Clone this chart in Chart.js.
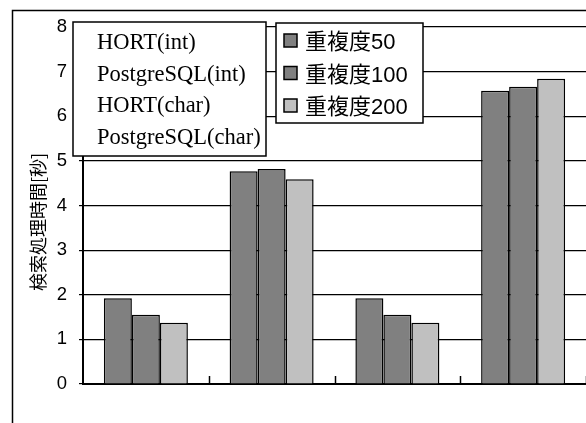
<!DOCTYPE html>
<html>
<head>
<meta charset="utf-8">
<script src="https://cdn.jsdelivr.net/npm/chart.js@4/dist/chart.umd.min.js"></script>
<style>
  html, body { margin: 0; padding: 0; background: #fff; overflow: hidden; }
  canvas { display: block; }
</style>
</head>
<body>
<canvas id="chart" width="586" height="423"></canvas>
<script>
// values (seconds)
const categories = ["HORT(int)", "PostgreSQL(int)", "HORT(char)", "PostgreSQL(char)"]
const seriesNames = ["重複度50", "重複度100", "重複度200"]
const dup50 = [1.92, 4.77, 1.92, 6.57]
const dup100 = [1.55, 4.82, 1.55, 6.66]
const dup200 = [1.37, 4.59, 1.37, 6.84]
const yTitle = "検索処理時間[秒]"
const yMin = 0
const yMax = 8

const colors = ["#808080", "#808080", "#c0c0c0"]

// outer frame of the figure (cut off on the right and bottom)
const framePlugin = {
  id: "frame",
  beforeDraw(chart) {
    const ctx = chart.ctx
    ctx.save()
    ctx.fillStyle = "#fff"
    ctx.fillRect(0, 0, chart.width, chart.height)
    ctx.strokeStyle = "#000"
    ctx.lineWidth = 1.5
    ctx.strokeRect(12.5, 10.5, chart.width + 20, chart.height + 20)
    ctx.restore()
  },
}

// short upward ticks between categories on the x axis
const xTicksPlugin = {
  id: "xticks",
  afterDatasetsDraw(chart) {
    const ctx = chart.ctx
    const x = chart.scales.x
    const bottom = chart.chartArea.bottom
    const half = (x.getPixelForValue(1) - x.getPixelForValue(0)) / 2
    ctx.save()
    ctx.strokeStyle = "#000"
    ctx.lineWidth = 1.5
    categories.forEach((c, i) => {
      const px = Math.round(x.getPixelForValue(i) + half) + 0.5
      ctx.beginPath()
      ctx.moveTo(px, bottom)
      ctx.lineTo(px, bottom - 8)
      ctx.stroke()
    })
    ctx.restore()
  },
}

// rotated y title, category text box and series legend box
const boxesPlugin = {
  id: "boxes",
  afterDraw(chart) {
    const ctx = chart.ctx
    const area = chart.chartArea
    ctx.save()

    ctx.translate(38, 222)
    ctx.rotate(-Math.PI / 2)
    ctx.fillStyle = "#000"
    ctx.font = '18px "Noto Sans CJK JP"'
    ctx.textAlign = "center"
    ctx.textBaseline = "middle"
    ctx.fillText(yTitle, 0, 0)
    ctx.setTransform(1, 0, 0, 1, 0, 0)

    // category names box
    const cx = area.left - 10, cy = area.top - 5
    ctx.fillStyle = "#fff"
    ctx.fillRect(cx, cy, 193, 134)
    ctx.strokeStyle = "#000"
    ctx.lineWidth = 1.5
    ctx.strokeRect(cx, cy, 193, 134)
    ctx.fillStyle = "#000"
    ctx.font = '22.5px "Liberation Serif"'
    ctx.textAlign = "left"
    ctx.textBaseline = "alphabetic"
    categories.forEach((c, i) => {
      ctx.fillText(c, cx + 24, cy + 27 + i * 31.7)
    })

    // series legend box
    const lx = 276, ly = cy + 1
    ctx.fillStyle = "#fff"
    ctx.fillRect(lx, ly, 147, 100)
    ctx.strokeRect(lx, ly, 147, 100)
    ctx.font = '22px "Liberation Sans", "Noto Sans CJK JP"'
    chart.data.datasets.forEach((ds, i) => {
      const base = ly + 26 + i * 32.5
      ctx.fillStyle = ds.backgroundColor
      ctx.fillRect(lx + 8, base - 15, 13, 13)
      ctx.lineWidth = 1.5
      ctx.strokeRect(lx + 8, base - 15, 13, 13)
      ctx.fillStyle = "#000"
      ctx.fillText(ds.label, lx + 29, base)
    })
    ctx.restore()
  },
}

new Chart(document.getElementById("chart"), {
  type: "bar",
  data: {
    labels: categories,
    datasets: [
      { label: seriesNames[0], data: dup50, backgroundColor: colors[0] },
      { label: seriesNames[1], data: dup100, backgroundColor: colors[1] },
      { label: seriesNames[2], data: dup200, backgroundColor: colors[2] },
    ].map(d => Object.assign(d, { borderColor: "#000", borderWidth: 1.5, borderSkipped: "bottom" })),
  },
  options: {
    responsive: false,
    animation: false,
    layout: { padding: { top: 27, bottom: 39, left: 0, right: 0 } },
    datasets: { bar: { categoryPercentage: 0.668, barPercentage: 1 } },
    plugins: { legend: { display: false }, tooltip: { enabled: false } },
    scales: {
      x: {
        ticks: { display: false },
        grid: { display: false },
        border: { color: "#000", width: 2 },
        afterFit(scale) { scale.height = 0 },
      },
      y: {
        min: yMin,
        max: yMax,
        ticks: {
          stepSize: 1,
          color: "#000",
          padding: 12,
          font: { family: '"Liberation Sans"', size: 18.5 },
        },
        grid: { color: "#000", lineWidth: 1.2, tickLength: 4 },
        border: { color: "#000", width: 2 },
        afterFit(scale) { scale.width = 83 },
      },
    },
  },
  plugins: [framePlugin, xTicksPlugin, boxesPlugin],
})
</script>
</body>
</html>
